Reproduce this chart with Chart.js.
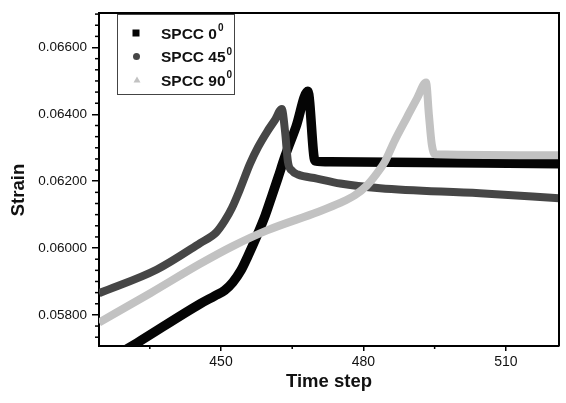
<!DOCTYPE html>
<html lang="en">
<head>
<meta charset="UTF-8">
<title>Strain vs Time step</title>
<script src="https://cdn.jsdelivr.net/npm/chart.js"></script>
<style>
  body { margin: 0; background: #fff; }
  #chart { display: block; }
</style>
</head>
<body>
<canvas id="chart" width="566" height="403"></canvas>
<script>
  // values: time step / strain for each orientation
  const seriesNames = ['SPCC 0', 'SPCC 45', 'SPCC 90'];

  const steps0  = [429.6, 432.3, 445.6, 448.7, 450.8, 452.5, 454.2, 455.7, 457.6, 459.3, 460.7, 462.0, 463.5, 465.8, 468.3, 469.8, 473.0, 521.2];
  const strain0 = [0.05693, 0.05716, 0.05833, 0.05857, 0.05874, 0.05898, 0.05933, 0.05977, 0.06038, 0.06097, 0.06155, 0.06210, 0.06275, 0.06363, 0.06469, 0.06261, 0.06258, 0.06252];

  const steps45  = [424.3, 436.5, 445.6, 449.0, 450.8, 452.3, 454.0, 456.1, 457.8, 459.7, 461.4, 462.8, 463.5, 464.1, 465.0, 466.2, 470.2, 475.1, 483.5, 504.5, 521.2];
  const strain45 = [0.05865, 0.05936, 0.06015, 0.06047, 0.06082, 0.06120, 0.06176, 0.06252, 0.06302, 0.06348, 0.06384, 0.06416, 0.06348, 0.06258, 0.06231, 0.06220, 0.06208, 0.06193, 0.06179, 0.06164, 0.06149];

  const steps90  = [424.3, 435.1, 445.6, 452.5, 459.7, 470.4, 475.1, 478.2, 480.7, 482.8, 484.5, 486.6, 489.2, 491.3, 493.2, 493.8, 494.4, 495.1, 521.2];
  const strain90 = [0.05777, 0.05865, 0.05953, 0.06006, 0.06053, 0.06108, 0.06135, 0.06158, 0.06187, 0.06223, 0.06258, 0.06322, 0.06392, 0.06448, 0.06495, 0.06398, 0.06310, 0.06281, 0.06278];

  const xMin = 424.3, xMax = 521.2, xStep = 30;
  const yMin = 0.05707, yMax = 0.06703, yStep = 0.002;

  const FONT = '"Liberation Sans", Arial, sans-serif';

  function toPoints(xs, ys) {
    return xs.map((x, i) => ({ x: x, y: ys[i] }));
  }

  // frame, minor ticks, legend box and the y title
  const decor = {
    id: 'decor',
    afterDraw(chart) {
      const { ctx, chartArea: a, scales } = chart;
      const xs = scales.x, ys = scales.y;
      ctx.save();

      ctx.strokeStyle = '#000';
      ctx.lineWidth = 2;
      ctx.beginPath();
      ctx.moveTo(a.left, a.top);
      ctx.lineTo(a.right, a.top);
      ctx.lineTo(a.right, a.bottom);
      ctx.stroke();

      // minor ticks
      ctx.lineWidth = 1.5;
      const yMinor = yStep / 6;
      for (let k = Math.ceil(yMin / yMinor - 1e-6); k * yMinor <= yMax; k++) {
        if (k % 6 === 0) continue;
        const py = ys.getPixelForValue(k * yMinor);
        ctx.beginPath(); ctx.moveTo(a.left, py); ctx.lineTo(a.left - 4, py); ctx.stroke();
      }
      const xMinor = xStep / 2;
      for (let k = Math.ceil(xMin / xMinor); k * xMinor <= xMax; k++) {
        if (k % 2 === 0) continue;
        const px = xs.getPixelForValue(k * xMinor);
        ctx.beginPath(); ctx.moveTo(px, a.bottom); ctx.lineTo(px, a.bottom + 3); ctx.stroke();
      }

      // legend
      ctx.fillStyle = '#fff';
      ctx.fillRect(117, 14, 117, 80);
      ctx.strokeStyle = '#444';
      ctx.lineWidth = 1;
      ctx.strokeRect(117.5, 14.5, 117, 80);

      const ds = chart.data.datasets;
      ctx.fillStyle = ds[0].borderColor;
      ctx.fillRect(132.5, 29.5, 7, 7);
      ctx.fillStyle = ds[1].borderColor;
      ctx.beginPath(); ctx.arc(136.5, 56.5, 3.5, 0, Math.PI * 2); ctx.fill();
      ctx.fillStyle = ds[2].borderColor;
      ctx.beginPath(); ctx.moveTo(137, 76.5); ctx.lineTo(140.5, 82.5); ctx.lineTo(133.5, 82.5); ctx.closePath(); ctx.fill();

      const bases = [38.7, 62.3, 85.7];
      ctx.fillStyle = '#111';
      ctx.textBaseline = 'alphabetic';
      ctx.textAlign = 'left';
      seriesNames.forEach((name, i) => {
        ctx.font = 'bold 15.5px ' + FONT;
        ctx.fillText(name, 161, bases[i]);
        const w = ctx.measureText(name).width;
        ctx.font = 'bold 10px ' + FONT;
        ctx.fillText('0', 161 + w + 1, bases[i] - 7.4);
      });

      // y title
      ctx.translate(19, 190);
      ctx.rotate(-Math.PI / 2);
      ctx.font = 'bold 18.5px ' + FONT;
      ctx.textAlign = 'center';
      ctx.textBaseline = 'middle';
      ctx.fillText('Strain', 0, 0);

      ctx.restore();
    }
  };

  const lineStyle = { pointRadius: 0, cubicInterpolationMode: 'monotone', fill: false, clip: 0, borderJoinStyle: 'round' };

  new Chart(document.getElementById('chart'), {
    type: 'line',
    data: {
      datasets: [
        Object.assign({ label: 'SPCC 0°',  data: toPoints(steps0, strain0),   borderColor: '#050505', borderWidth: 9.5, order: 3 }, lineStyle),
        Object.assign({ label: 'SPCC 45°', data: toPoints(steps45, strain45), borderColor: '#464646', borderWidth: 8, order: 2 }, lineStyle),
        Object.assign({ label: 'SPCC 90°', data: toPoints(steps90, strain90), borderColor: '#c2c2c2', borderWidth: 8, order: 1 }, lineStyle)
      ]
    },
    options: {
      responsive: false,
      animation: false,
      devicePixelRatio: 1,
      layout: { padding: { top: 6, right: 7, bottom: 0, left: 0 } },
      plugins: { legend: { display: false }, tooltip: { enabled: false } },
      scales: {
        x: {
          type: 'linear',
          min: xMin, max: xMax,
          afterFit(scale) { scale.height = 57; },
          border: { display: true, color: '#000', width: 2 },
          grid: { drawOnChartArea: false, drawTicks: true, tickLength: 5, color: '#000', lineWidth: 1.5 },
          ticks: { stepSize: xStep, includeBounds: false, padding: 3, color: '#111', font: { family: FONT, size: 14 } },
          title: { display: true, text: 'Time step', color: '#111', padding: { top: 0, bottom: 10 }, font: { family: FONT, size: 18.5, weight: 'bold' } }
        },
        y: {
          type: 'linear',
          min: yMin, max: yMax,
          afterFit(scale) { scale.width = 99; },
          border: { display: true, color: '#000', width: 2 },
          grid: { drawOnChartArea: false, drawTicks: true, tickLength: 7, color: '#000', lineWidth: 1.5 },
          ticks: {
            stepSize: yStep, includeBounds: false, padding: 5, color: '#111',
            font: { family: FONT, size: 13.5 },
            callback: v => v.toFixed(5)
          }
        }
      }
    },
    plugins: [decor]
  });
</script>
</body>
</html>
